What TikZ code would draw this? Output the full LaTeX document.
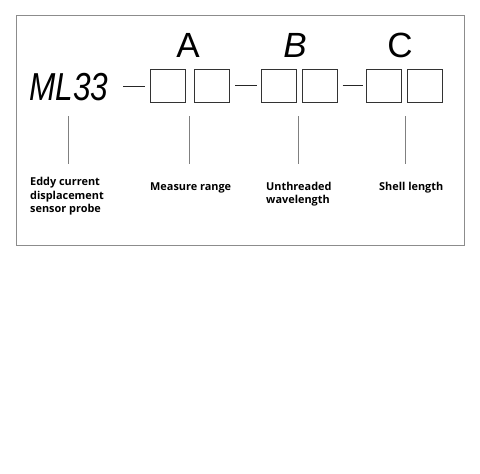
\documentclass[tikz,border=0pt]{standalone}
\usepackage{fontspec}
\setmainfont{Liberation Sans}
\newfontfamily\labfont{Open Sans}
\begin{document}
\begin{tikzpicture}[x=1pt,y=-1pt,
  cell/.style={draw=black!80,line width=1pt,minimum width=35pt,minimum height=33pt,inner sep=0pt},
  dashline/.style={draw=black!85,line width=1pt},
  leader/.style={draw=black!50,line width=0.6pt},
  lab/.style={font=\labfont\bfseries\fontsize{10.9}{13.5}\selectfont,align=left,inner sep=0pt,anchor=base west},
  big/.style={font=\fontsize{35}{35}\selectfont,inner sep=0pt}]
\useasboundingbox (0,0) rectangle (480,474);
\draw[draw=black!45,line width=0.8pt] (16.7,15) rectangle (464,245.6);
% model name
\node[font=\itshape\fontsize{39}{39}\selectfont,inner sep=0pt,anchor=base west,xscale=0.81] (ml) at (29,100) {ML33};
% cells
\node[cell] (b1) at (167.5,85.5) {};
\node[cell] (b2) at (211.5,85.5) {};
\node[cell] (b3) at (278.5,85.5) {};
\node[cell] (b4) at (319.5,85.5) {};
\node[cell] (b5) at (383.5,85.5) {};
\node[cell] (b6) at (424.5,85.5) {};
% dashes
\coordinate (d1a) at (123,86);
\coordinate (d1b) at (145,86);
\draw[dashline] (d1a) -- (d1b);
\draw[dashline,shorten <=5.5pt,shorten >=4pt] (b2.east) -- (b3.west);
\draw[dashline,shorten <=5pt,shorten >=3pt] (b4.east) -- (b5.west);
% letters
\node[big,anchor=base] (la) at (188,57) {A};
\node[big,anchor=base,font=\itshape\fontsize{35}{35}\selectfont] (lb) at (295,57) {B};
\node[big,anchor=base] (lc) at (400,57) {C};
% leaders
\foreach \n/\x in {1/68,2/189,3/298,4/405}{
  \coordinate (t\n) at (\x,116);
  \coordinate (u\n) at (\x,164);
  \draw[leader] (t\n) -- (u\n);
}
% labels (base = last line)
\node[lab] (e1) at (30,212.5) {Eddy current\\displacement\\sensor probe};
\node[lab] (e2) at (150,190) {Measure range};
\node[lab] (e3) at (266,203.5) {Unthreaded\\wavelength};
\node[lab] (e4) at (379,190) {Shell length};
\end{tikzpicture}
\end{document}
